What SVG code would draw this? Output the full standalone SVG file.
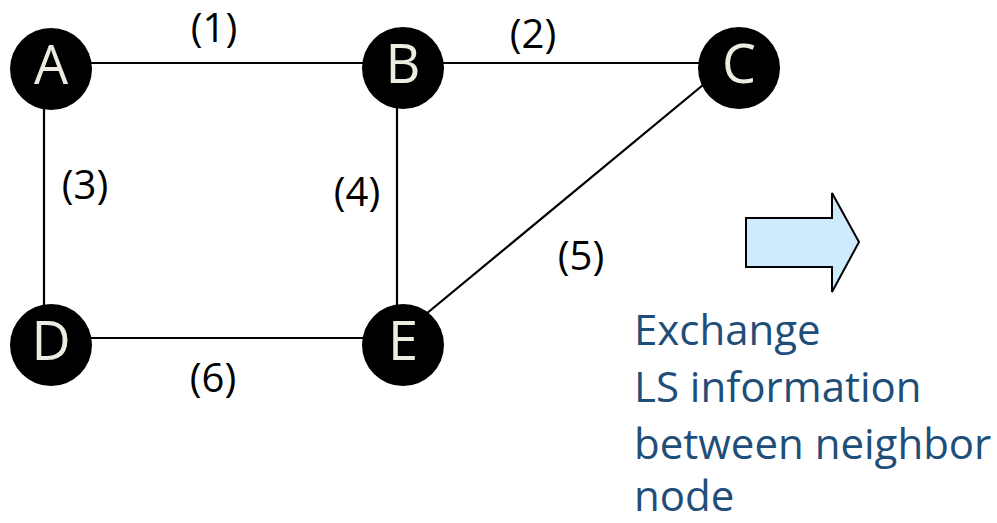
<svg xmlns="http://www.w3.org/2000/svg" width="997" height="523" viewBox="0 0 997 523">
  <style>
    .link { stroke: #000; stroke-width: 2.2; fill: none; }
    .node circle { fill: #000; }
    .node text { font-family: "Open Sans", "Liberation Sans", sans-serif; font-size: 54px; fill: #EEECE1; text-anchor: middle; }
    .cost { font-family: "Open Sans", "Liberation Sans", sans-serif; font-size: 40px; fill: #000; text-anchor: middle; }
    .note { font-family: "Open Sans", "Liberation Sans", sans-serif; font-size: 42px; fill: #1F4E79; }
  </style>
  <rect width="997" height="523" fill="#fff"/>

  <!-- links between routers -->
  <g id="connectors">
    <line class="link" x1="44" y1="63" x2="397" y2="63"/>
    <line class="link" x1="397" y1="63" x2="732" y2="63"/>
    <line class="link" x1="44" y1="63" x2="44" y2="338"/>
    <line class="link" x1="397" y1="63" x2="397" y2="338"/>
    <line class="link" x1="732" y1="61" x2="397" y2="338"/>
    <line class="link" x1="44" y1="338" x2="397" y2="338"/>
  </g>

  <!-- link costs -->
  <g id="costs">
    <text class="cost" x="214" y="42">(1)</text>
    <text class="cost" x="533" y="48">(2)</text>
    <text class="cost" x="85" y="199">(3)</text>
    <text class="cost" x="357" y="206">(4)</text>
    <text class="cost" x="581" y="270">(5)</text>
    <text class="cost" x="213" y="392">(6)</text>
  </g>

  <!-- routers -->
  <g id="node-A" class="node"><circle cx="51" cy="69" r="41"/><text x="51" y="84">A</text></g>
  <g id="node-B" class="node"><circle cx="403" cy="68" r="41"/><text x="403" y="83">B</text></g>
  <g id="node-C" class="node"><circle cx="739" cy="68" r="41"/><text x="739" y="83">C</text></g>
  <g id="node-D" class="node"><circle cx="51" cy="345" r="41"/><text x="51" y="360">D</text></g>
  <g id="node-E" class="node"><circle cx="403" cy="345" r="41"/><text x="403" y="360">E</text></g>

  <!-- block arrow -->
  <g id="arrow">
    <polygon points="746,218 832,218 832,193 859,242 832,292 832,267 746,267" fill="#CDEBFD" stroke="#000" stroke-width="2" stroke-linejoin="miter"/>
  </g>

  <!-- caption -->
  <g id="caption">
    <text class="note" x="634" y="345">Exchange</text>
    <text class="note" x="634" y="402">LS information</text>
    <text class="note" x="634" y="459">between neighbor</text>
    <text class="note" x="634" y="511">node</text>
  </g>
</svg>
